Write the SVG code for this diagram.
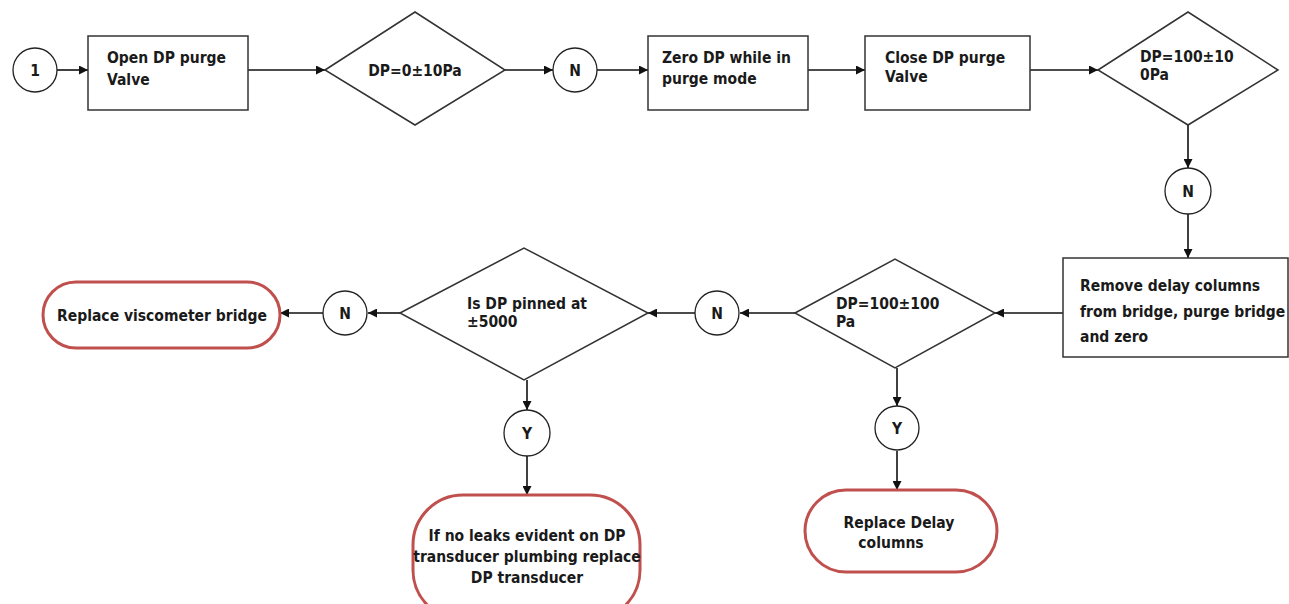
<svg xmlns="http://www.w3.org/2000/svg" width="1289" height="604" viewBox="0 0 1289 604">
<style>
text{font-family:"DejaVu Sans Condensed","DejaVu Sans","Liberation Sans",sans-serif;font-stretch:condensed;font-weight:bold;font-size:15.5px;fill:#1a1a1a;}
.c{text-anchor:middle;}
.box{fill:#fff;stroke:#333;stroke-width:1.5;}
.term{fill:#fff;stroke:#c0504d;stroke-width:3;}
.con{fill:#fff;stroke:#222;stroke-width:1.3;}
.ln{fill:none;stroke:#111;stroke-width:1.6;marker-end:url(#ah);}
</style>
<defs>
<marker id="ah" viewBox="0 0 10 10" refX="10" refY="5" markerWidth="10" markerHeight="9" markerUnits="userSpaceOnUse" orient="auto"><path d="M0,0 L10,5 L0,10 z" fill="#111"/></marker>
</defs>
<g id="connectors">
<line class="ln" x1="57" y1="70" x2="88" y2="70"/>
<line class="ln" x1="248" y1="70" x2="325" y2="70"/>
<line class="ln" x1="505" y1="70" x2="553" y2="70"/>
<line class="ln" x1="597" y1="70" x2="648" y2="70"/>
<line class="ln" x1="808" y1="70" x2="865" y2="70"/>
<line class="ln" x1="1030" y1="70" x2="1098" y2="70"/>
<line class="ln" x1="1188" y1="125" x2="1188" y2="168"/>
<line class="ln" x1="1188" y1="214" x2="1188" y2="258"/>
<line class="ln" x1="1063" y1="313" x2="995" y2="313"/>
<line class="ln" x1="897" y1="368" x2="897" y2="406"/>
<line class="ln" x1="897" y1="451" x2="897" y2="490"/>
<line class="ln" x1="795" y1="313" x2="740" y2="313"/>
<line class="ln" x1="695" y1="313" x2="648" y2="313"/>
<line class="ln" x1="400" y1="313" x2="368" y2="313"/>
<line class="ln" x1="323" y1="313" x2="280" y2="313"/>
<line class="ln" x1="527" y1="380" x2="527" y2="410"/>
<line class="ln" x1="527" y1="456" x2="527" y2="495"/>
</g>
<g id="start1"><circle class="con" cx="35" cy="70" r="22"/><text class="c" x="35" y="76">1</text></g>
<g id="openPurge"><rect class="box" x="88" y="36" width="160" height="74"/><text x="107" y="63">Open DP purge</text><text x="107" y="85">Valve</text></g>
<g id="dec1"><polygon class="box" points="325,70 415,12 505,70 415,125"/><text class="c" x="415" y="76">DP=0±10Pa</text></g>
<g id="n1"><circle class="con" cx="575" cy="70" r="22"/><text class="c" x="575" y="76">N</text></g>
<g id="zeroDP"><rect class="box" x="648" y="36" width="160" height="74"/><text x="662" y="63">Zero DP while in</text><text x="662" y="84">purge mode</text></g>
<g id="closePurge"><rect class="box" x="865" y="36" width="165" height="74"/><text x="885" y="63">Close DP purge</text><text x="885" y="82">Valve</text></g>
<g id="dec2"><polygon class="box" points="1098,70 1188,12 1278,70 1188,125"/><text x="1140" y="62">DP=100±10</text><text x="1140" y="80">0Pa</text></g>
<g id="n2"><circle class="con" cx="1188" cy="191" r="23"/><text class="c" x="1188" y="197">N</text></g>
<g id="removeDelay"><rect class="box" x="1063" y="258" width="225" height="99"/><text x="1080" y="291">Remove delay columns</text><text x="1080" y="317">from bridge, purge bridge</text><text x="1080" y="342">and zero</text></g>
<g id="dec3"><polygon class="box" points="795,313 895,259 995,313 895,368"/><text x="836" y="309">DP=100±100</text><text x="836" y="327">Pa</text></g>
<g id="y1"><circle class="con" cx="897" cy="428" r="22"/><text class="c" x="897" y="434">Y</text></g>
<g id="replaceDelay"><rect class="term" x="805" y="490" width="192" height="82" rx="41"/><text class="c" x="899" y="528">Replace  Delay</text><text class="c" x="891" y="548">columns</text></g>
<g id="n3"><circle class="con" cx="717" cy="313" r="22"/><text class="c" x="717" y="319">N</text></g>
<g id="dec4"><polygon class="box" points="400,313 524,248 648,313 524,380"/><text x="467" y="309">Is DP pinned at</text><text x="467" y="327">±5000</text></g>
<g id="n4"><circle class="con" cx="345" cy="313" r="22"/><text class="c" x="345" y="319">N</text></g>
<g id="replaceBridge"><rect class="term" x="43" y="282" width="237" height="66" rx="33"/><text x="57" y="321">Replace viscometer bridge</text></g>
<g id="y2"><circle class="con" cx="527" cy="433" r="23"/><text class="c" x="527" y="439">Y</text></g>
<g id="replaceTransducer"><rect class="term" x="413" y="495" width="227" height="125" rx="50"/><text class="c" x="527" y="541">If no leaks evident on DP</text><text class="c" x="527" y="562">transducer plumbing replace</text><text class="c" x="527" y="583">DP transducer</text></g>
</svg>
